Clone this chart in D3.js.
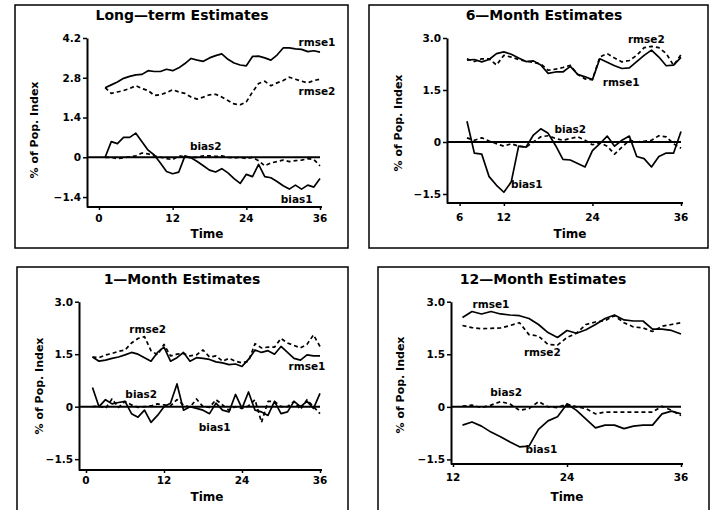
<!DOCTYPE html>
<html>
<head>
<meta charset="utf-8">
<script src="https://cdn.jsdelivr.net/npm/d3@7"></script>
<style>
  body { margin: 0; background: #fff; }
  svg { display: block; font-family: "DejaVu Sans", "Liberation Sans", Arial, sans-serif; font-weight: bold; }
</style>
</head>
<body>
<svg id="chart" width="713" height="510"></svg>
<script>
// Long-term estimates, time 1..36
const ltRmse1 = [2.45, 2.55, 2.65, 2.78, 2.85, 2.9, 2.92, 3.05, 3.02, 3.02, 3.1, 3.05, 3.15, 3.3, 3.48, 3.42, 3.38, 3.5,
  3.58, 3.64, 3.45, 3.32, 3.25, 3.22, 3.55, 3.56, 3.5, 3.42, 3.6, 3.85, 3.85, 3.82, 3.8, 3.72, 3.75, 3.7];
const ltRmse2 = [2.45, 2.25, 2.3, 2.35, 2.42, 2.52, 2.42, 2.35, 2.18, 2.2, 2.28, 2.38, 2.3, 2.25, 2.12, 2.05, 2.12, 2.2,
  2.22, 2.12, 2.0, 1.88, 1.85, 1.95, 2.3, 2.6, 2.68, 2.52, 2.62, 2.7, 2.82, 2.75, 2.68, 2.62, 2.7, 2.75];
const ltBias1 = [0.0, 0.55, 0.48, 0.7, 0.7, 0.85, 0.55, 0.25, 0.08, -0.2, -0.5, -0.58, -0.52, 0.05, -0.02, -0.15, -0.3, -0.45,
  -0.52, -0.4, -0.55, -0.75, -0.92, -0.6, -0.68, -0.25, -0.68, -0.72, -0.85, -1.0, -1.12, -0.98, -1.12, -0.98, -1.05, -0.75];
const ltBias2 = [0.0, 0.0, -0.05, -0.02, 0.02, 0.05, 0.15, 0.12, 0.05, 0.0, -0.05, -0.08, 0.05, 0.02, -0.02, 0.0, 0.05, 0.05,
  0.03, 0.05, 0.0, -0.02, 0.0, -0.05, 0.0, -0.12, -0.3, -0.2, -0.15, -0.1, -0.15, -0.12, -0.1, -0.05, -0.08, -0.3];

// 6-month estimates, time 7..36
const m6Rmse1 = [2.36, 2.38, 2.31, 2.38, 2.55, 2.6, 2.53, 2.42, 2.32, 2.34, 2.22, 1.98, 2.02, 2.02, 2.18, 1.95, 1.88, 1.8,
  2.4, 2.3, 2.2, 2.12, 2.14, 2.32, 2.5, 2.65, 2.45, 2.2, 2.22, 2.44];
const m6Rmse2 = [2.4, 2.32, 2.4, 2.4, 2.22, 2.5, 2.45, 2.38, 2.33, 2.3, 2.25, 2.07, 2.1, 2.15, 2.21, 1.95, 1.82, 1.8,
  2.45, 2.55, 2.42, 2.31, 2.35, 2.5, 2.72, 2.76, 2.72, 2.55, 2.21, 2.52];
const m6Bias1 = [0.6, -0.32, -0.35, -1.0, -1.25, -1.45, -1.15, -0.12, -0.15, 0.2, 0.38, 0.25, -0.1, -0.5, -0.52, -0.62, -0.72, -0.25,
  -0.05, 0.17, -0.12, 0.05, 0.17, -0.42, -0.48, -0.72, -0.42, -0.32, -0.32, 0.3];
const m6Bias2 = [0.12, 0.05, 0.12, 0.03, -0.05, -0.12, -0.05, -0.12, -0.15, 0.0, 0.15, 0.18, 0.1, 0.05, 0.1, 0.15, 0.05, -0.08,
  -0.02, -0.12, -0.35, -0.15, 0.05, 0.0, 0.02, 0.05, 0.18, 0.15, -0.05, -0.18];

// 1-month estimates, time 1..36
const m1Rmse1 = [1.42, 1.3, 1.33, 1.38, 1.42, 1.48, 1.55, 1.5, 1.4, 1.3, 1.55, 1.7, 1.3, 1.4, 1.55, 1.3, 1.4, 1.38,
  1.35, 1.28, 1.25, 1.2, 1.22, 1.15, 1.35, 1.62, 1.55, 1.6, 1.5, 1.72, 1.55, 1.38, 1.33, 1.48, 1.45, 1.45];
const m1Rmse2 = [1.42, 1.4, 1.48, 1.52, 1.58, 1.62, 1.82, 1.95, 2.0, 1.6, 1.48, 1.78, 1.45, 1.5, 1.52, 1.45, 1.48, 1.62,
  1.42, 1.45, 1.3, 1.38, 1.3, 1.25, 1.3, 1.8, 1.68, 1.7, 1.7, 1.95, 1.82, 1.75, 1.68, 1.78, 2.05, 1.72];
const m1Bias1 = [0.55, 0.0, 0.2, 0.08, 0.12, 0.15, -0.2, -0.3, -0.1, -0.45, -0.25, 0.0, 0.1, 0.65, -0.1, 0.0, -0.05, -0.1,
  -0.2, 0.1, -0.1, -0.15, 0.35, -0.05, 0.42, -0.1, -0.15, -0.25, 0.15, -0.2, -0.15, 0.15, 0.0, 0.15, -0.05, 0.38];
const m1Bias2 = [0.0, 0.02, -0.05, 0.22, -0.02, 0.15, 0.05, -0.02, 0.0, 0.02, 0.08, 0.05, 0.02, 0.2, 0.05, -0.02, 0.22, 0.0,
  -0.02, 0.2, 0.05, -0.1, 0.0, -0.05, 0.02, 0.2, -0.45, 0.15, 0.15, 0.0, 0.0, 0.15, -0.08, 0.2, 0.0, -0.2];

// 12-month estimates, time 13..36
const m12Rmse1 = [2.55, 2.72, 2.65, 2.72, 2.65, 2.62, 2.6, 2.52, 2.35, 2.12, 1.98, 2.18, 2.1, 2.2, 2.35, 2.52, 2.62, 2.48,
  2.45, 2.45, 2.22, 2.22, 2.18, 2.08];
const m12Rmse2 = [2.32, 2.26, 2.23, 2.24, 2.25, 2.32, 2.4, 2.06, 2.02, 1.78, 1.76, 1.98, 2.1, 2.35, 2.42, 2.46, 2.6, 2.4,
  2.28, 2.25, 2.15, 2.3, 2.35, 2.4];
const m12Bias1 = [-0.52, -0.43, -0.55, -0.72, -0.85, -1.0, -1.14, -1.12, -0.64, -0.4, -0.28, 0.08, -0.1, -0.35, -0.6, -0.52,
  -0.52, -0.62, -0.55, -0.52, -0.52, -0.2, -0.12, -0.2];
const m12Bias2 = [0.02, 0.05, -0.02, 0.05, 0.15, 0.08, -0.1, -0.05, 0.15, 0.0, -0.02, 0.08, 0.0, -0.05, -0.2, -0.15,
  -0.15, -0.15, -0.15, -0.15, -0.15, 0.02, -0.1, -0.25];

const ltTicks = [-1.4, 0, 1.4, 2.8, 4.2];
const shortTicks = [-1.5, 0, 1.5, 3.0];

const panels = [
  {
    title: "Long—term Estimates", start: 1,
    series: { rmse1: ltRmse1, rmse2: ltRmse2, bias1: ltBias1, bias2: ltBias2 },
    xTicks: [0, 12, 24, 36], yTicks: ltTicks,
    box: [15, 5, 333, 243], axisX: 87, xEnd: 322,
    xDomain: [0, 36], xRange: [99, 320], yDomain: [-1.75, 4.2], yRange: [207, 38],
    titleX: 182, titleY: 20, tickY: 222, timeY: 238, timeX: 207, yTitle: [35, 130],
    labels: { rmse1: [35.5, 4.02], rmse2: [35.5, 2.3], bias2: [17.4, 0.36], bias1: [32.2, -1.5] }
  },
  {
    title: "6—Month Estimates", start: 7,
    series: { rmse1: m6Rmse1, rmse2: m6Rmse2, bias1: m6Bias1, bias2: m6Bias2 },
    xTicks: [6, 12, 24, 36], yTicks: shortTicks,
    box: [369, 5, 339, 243], axisX: 447, xEnd: 683,
    xDomain: [6, 36], xRange: [459.6, 681], yDomain: [-1.76, 3.0], yRange: [203, 38],
    titleX: 544, titleY: 20, tickY: 221, timeY: 238, timeX: 570, yTitle: [399, 123],
    labels: { rmse2: [31.3, 2.95], rmse1: [27.9, 1.7], bias2: [21, 0.35], bias1: [15.1, -1.24] }
  },
  {
    title: "1—Month Estimates", start: 1,
    series: { rmse1: m1Rmse1, rmse2: m1Rmse2, bias1: m1Bias1, bias2: m1Bias2 },
    xTicks: [0, 12, 24, 36], yTicks: shortTicks,
    box: [17, 267, 331, 250], axisX: 79, xEnd: 322,
    xDomain: [0, 36], xRange: [86, 320], yDomain: [-1.81, 3.0], yRange: [470, 301.7],
    titleX: 182, titleY: 284, tickY: 484, timeY: 501, timeX: 207, yTitle: [40, 386],
    labels: { rmse2: [9.5, 2.19], rmse1: [34, 1.14], bias2: [8.5, 0.34], bias1: [19.8, -0.6] }
  },
  {
    title: "12—Month Estimates", start: 13,
    series: { rmse1: m12Rmse1, rmse2: m12Rmse2, bias1: m12Bias1, bias2: m12Bias2 },
    xTicks: [12, 24, 36], yTicks: shortTicks,
    box: [378, 267, 331, 250], axisX: 451, xEnd: 683,
    xDomain: [12, 36], xRange: [453, 681], yDomain: [-1.63, 3.0], yRange: [464, 301.7],
    titleX: 543, titleY: 284, tickY: 481, timeY: 501, timeX: 567, yTitle: [401, 385],
    labels: { rmse1: [16, 2.91], rmse2: [21.4, 1.54], bias2: [17.6, 0.39], bias1: [21.3, -1.23] }
  }
];

const dashed = { rmse1: null, rmse2: "4,3", bias1: null, bias2: "4,3" };
const tickFmt = d => (d === 0 ? "0" : d3.format(".1f")(d));
const font = "'DejaVu Sans', 'Liberation Sans', Arial, sans-serif";

const svg = d3.select("#chart");

panels.forEach(p => {
  const g = svg.append("g");

  g.append("rect")
    .attr("x", p.box[0]).attr("y", p.box[1])
    .attr("width", p.box[2]).attr("height", p.box[3])
    .attr("fill", "none").attr("stroke", "#000").attr("stroke-width", 1.5);

  const x = d3.scaleLinear().domain(p.xDomain).range(p.xRange);
  const y = d3.scaleLinear().domain(p.yDomain).range(p.yRange);
  const axisY = p.yRange[0];

  // title
  g.append("text")
    .attr("x", p.titleX)
    .attr("y", p.titleY)
    .attr("text-anchor", "middle")
    .style("font-size", "14px")
    .text(p.title);

  // y axis
  const yAxis = g.append("g")
    .attr("transform", `translate(${p.axisX},0)`)
    .call(d3.axisLeft(y).tickValues(p.yTicks).tickFormat(tickFmt).tickSize(4).tickSizeOuter(0).tickPadding(2));
  yAxis.select(".domain").attr("stroke-width", 2);
  yAxis.selectAll("line").attr("stroke-width", 1.5);
  yAxis.selectAll("text").style("font-size", "10.5px").style("font-family", font).style("font-weight", "bold");

  // x axis
  const xAxis = g.append("g")
    .attr("transform", `translate(0,${axisY})`)
    .call(d3.axisBottom(x).tickValues(p.xTicks).tickSize(3).tickSizeOuter(0));
  xAxis.select(".domain").remove();
  xAxis.selectAll("text").remove();
  xAxis.selectAll("line").attr("stroke-width", 1.5);
  g.append("line")
    .attr("x1", p.axisX).attr("x2", p.xEnd)
    .attr("y1", axisY).attr("y2", axisY)
    .attr("stroke", "#000").attr("stroke-width", 2);
  g.selectAll(".xlab")
    .data(p.xTicks)
    .join("text")
    .attr("x", d => x(d))
    .attr("y", p.tickY)
    .attr("text-anchor", "middle")
    .style("font-size", "10.5px")
    .text(d => d);

  g.append("text")
    .attr("x", p.timeX).attr("y", p.timeY)
    .attr("text-anchor", "middle")
    .style("font-size", "12px")
    .text("Time");

  g.append("text")
    .attr("transform", `translate(${p.yTitle[0]},${p.yTitle[1]}) rotate(-90)`)
    .attr("text-anchor", "middle")
    .attr("dominant-baseline", "middle")
    .style("font-size", "11px")
    .text("% of Pop. Index");

  // zero reference
  g.append("line")
    .attr("x1", p.axisX).attr("x2", x(p.xDomain[1]))
    .attr("y1", y(0)).attr("y2", y(0))
    .attr("stroke", "#000").attr("stroke-width", 2);

  const line = d3.line()
    .x((d, i) => x(p.start + i))
    .y(d => y(d));

  Object.keys(p.series).forEach(key => {
    g.append("path")
      .datum(p.series[key])
      .attr("fill", "none")
      .attr("stroke", "#000")
      .attr("stroke-width", 1.7)
      .attr("stroke-linejoin", "round")
      .attr("stroke-dasharray", dashed[key])
      .attr("d", line);
  });

  Object.keys(p.labels).forEach(key => {
    const pos = p.labels[key];
    g.append("text")
      .attr("x", x(pos[0]))
      .attr("y", y(pos[1]))
      .attr("text-anchor", "middle")
      .attr("dominant-baseline", "middle")
      .style("font-size", "10.5px")
      .text(key);
  });
});
</script>
</body>
</html>
